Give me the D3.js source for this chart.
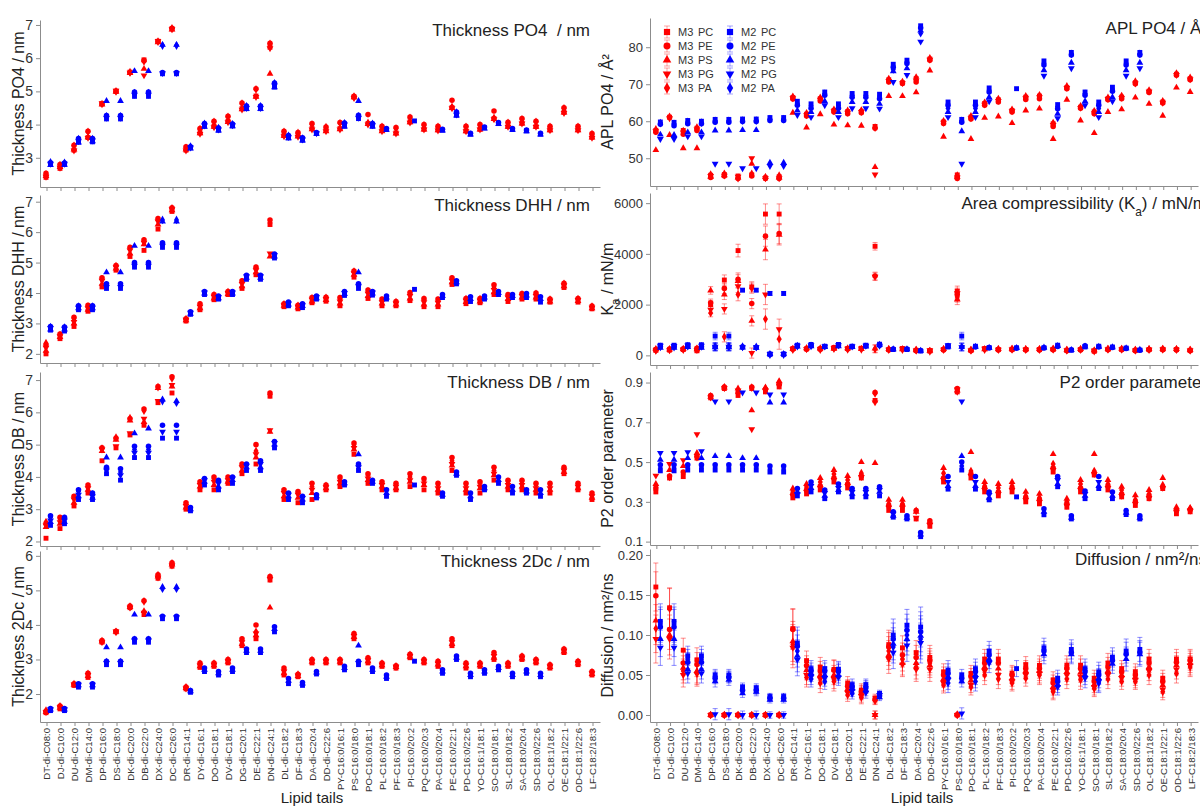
<!DOCTYPE html>
<html>
<head>
<meta charset="utf-8">
<script src="https://cdn.jsdelivr.net/npm/d3@7"></script>
<style>
  body { margin: 0; background: #fff; }
  svg { display: block; font-family: "Liberation Sans", Arial, sans-serif; }
  .axis path, .axis line { stroke: #8c8c8c; }
  .axis text { fill: #333; font-size: 14px; font-family: "Liberation Sans", Arial, sans-serif; }
  .axis.right text { font-size: 13px; }
</style>
</head>
<body>
<svg id="chart" width="1200" height="808"></svg>
<script>
const lipids = ["DT-di-C08:0","DJ-di-C10:0","DU-di-C12:0","DM-di-C14:0","DP-di-C16:0","DS-di-C18:0","DK-di-C20:0","DB-di-C22:0","DX-di-C24:0","DC-di-C26:0",
  "DR-di-C14:1","DY-di-C16:1","DO-di-C18:1","DV-di-C18:1","DG-di-C20:1","DE-di-C22:1","DN-di-C24:1","DL-di-C18:2","DF-di-C18:3","DA-di-C20:4",
  "DD-di-C22:6","PY-C16:0/16:1","PS-C16:0/18:0","PO-C16:0/18:1","PL-C16:0/18:2","PF-C16:0/18:3","PI-C16:0/20:2","PQ-C16:0/20:3","PA-C16:0/20:4","PE-C16:0/22:1",
  "PD-C16:0/22:6","YO-C16:1/18:1","SO-C18:0/18:1","SL-C18:0/18:2","SA-C18:0/20:4","SD-C18:0/22:6","OL-C18:1/18:2","OE-C18:1/22:1","OD-C18:1/22:6","LF-C18:2/18:3"];
const headgroups = ["PC","PE","PS","PG","PA"];
const models = ["M3","M2"];

// values per lipid, in headgroup order PC, PE, PS, PG, PA
const po4M3 = [[2.41,2.53,2.45,2.43,2.5],[2.68,2.8,2.72,2.7,2.78],[3.23,3.38,3.25,3.22,3.36],[3.61,3.8,3.62,3.6,3.78],[4.63,4.62,4.6,4.64,4.62],[5.01,5,4.99,5.02,5],[5.58,5.57,5.55,5.56,5.58],[5.95,5.93,5.68,5.48,5.9],[6.51,6.5,6.48,6.52,6.5],[6.88,6.9,6.86,6.87,6.9],
  [3.23,3.33,3.25,3.22,3.3],[3.75,3.88,3.74,3.72,3.86],[3.95,4.1,3.93,3.92,4.08],[4.1,4.25,4.08,4.07,4.23],[4.48,4.65,4.46,4.45,4.63],[4.86,5.08,4.84,4.83,5.06],[6.33,6.45,5.53,6.3,6.43],[3.67,3.8,3.66,3.65,3.78],[3.67,3.76,3.64,3.63,3.75],[3.88,4.03,3.86,3.85,4],
  [3.82,3.93,3.8,3.8,3.92],[3.88,4.06,3.86,3.85,4.04],[4.83,4.85,4.82,4.8,4.84],[4.03,4.3,4.02,4,4.05],[3.82,3.95,3.8,3.8,3.93],[3.75,3.91,3.73,3.73,3.88],[4.08,4.23,4.07,4.06,4.2],[3.86,4,3.85,3.85,3.98],[3.84,3.95,3.83,3.82,3.93],[4.51,4.73,4.5,4.49,4.53],
  [3.81,3.95,3.8,3.8,3.93],[3.86,4,3.85,3.85,3.98],[4.18,4.41,4.17,4.16,4.2],[3.94,4.07,3.93,3.93,4.05],[4.04,4.18,4.03,4.03,4.16],[3.94,4.1,3.93,3.93,4.08],[3.84,3.95,3.83,3.83,3.93],[4.37,4.51,4.36,4.35,4.49],[3.84,3.95,3.83,3.83,3.93],[3.62,3.73,3.61,3.6,3.71]];
const po4M2 = [[2.8,2.85,2.78,2.82,2.86],[2.8,2.84,2.79,2.82,2.85],[3.47,3.58,3.46,3.5,3.56],[3.48,3.58,3.5,3.52,3.56],[4.17,4.27,4.71,4.2,4.25],[4.17,4.27,4.71,4.2,4.25],[4.85,4.98,5.61,4.9,4.95],[4.85,4.98,5.61,4.9,4.95],[5.53,5.57,6.4,5.55,6.38],[5.53,5.57,6.4,5.55,6.38],
  [3.3,3.33,3.28,3.31,3.34],[3.95,4.03,3.93,3.97,4.02],[3.83,3.9,3.82,3.85,3.89],[3.96,4.02,3.95,3.98,4.01],[4.48,4.56,4.47,4.5,4.55],[4.48,4.56,4.47,4.5,4.55],[5.13,5.25,5.12,5.18,5.24],[3.6,3.67,3.59,3.62,3.66],[3.53,3.6,3.52,3.55,3.58],[3.73,3.76,3.72,3.74],
  [],[3.95,4.05,3.94,4,4.04],[4.18,4.28,4.71,4.2,4.25],[3.95,4.03,3.94,3.98,4.02],[3.85,3.88,3.84],[],[4.11],[],[3.83,3.86,3.82],[4.28,4.38,4.27,4.3,4.36],
  [3.71,3.74,3.7],[3.9,3.93,3.88],[4.03,4.06,4.02],[3.85,3.88,3.84],[3.81,3.84,3.8],[3.71,3.74,3.7],[],[],[],[]];

const dhhM3 = [[2,2.3,2.1,2.2,2.35],[2.5,2.65,2.55,2.58,2.62],[2.9,3.2,3,3.05,3.15],[3.4,3.6,3.45,3.5,3.55],[4.2,4.5,4.3,4.4,4.45],[4.75,4.9,4.8,4.85,4.88],[5.2,5.5,5.3,5.4,5.45],[5.4,5.75,5.6,5.65,5.7],[6.1,6.45,6.25,6.35,6.4],[6.68,6.8,6.72,6.75,6.78],
  [3.08,3.15,3.1,3.12,3.14],[3.45,3.65,3.5,3.55,3.6],[3.78,3.95,3.82,3.88,3.92],[3.95,4.05,3.97,4,4.03],[4.15,4.4,4.22,4.3,4.36],[4.6,4.85,4.68,4.75,4.8],[6.25,6.4,5.2,5.3,6.3],[3.55,3.65,3.58,3.6,3.63],[3.48,3.6,3.52,3.55,3.58],[3.68,3.85,3.72,3.78,3.82],
  [3.73,3.86,3.77,3.8,3.84],[3.58,3.85,3.65,3.72,3.8],[4.52,4.72,4.6,4.65,4.7],[3.82,4.1,3.9,3.98,4.05],[3.58,3.8,3.65,3.7,3.75],[3.58,3.72,3.62,3.66,3.7],[3.75,4.02,3.82,3.9,3.97],[3.55,3.82,3.62,3.7,3.78],[3.55,3.8,3.62,3.68,3.75],[4.28,4.5,4.35,4.4,4.45],
  [3.65,3.82,3.7,3.75,3.8],[3.68,3.82,3.72,3.75,3.8],[3.95,4.27,4.02,4.1,4.2],[3.72,3.95,3.8,3.85,3.9],[3.8,3.98,3.85,3.9,3.95],[3.8,4,3.85,3.9,3.97],[3.7,3.8,3.72,3.75,3.78],[4.18,4.32,4.22,4.25,4.3],[3.7,3.82,3.74,3.77,3.8],[3.48,3.57,3.5,3.52,3.55]];
const dhhM2 = [[2.78,2.9,2.8,2.85,2.88],[2.75,2.88,2.8,2.83,2.86],[3.45,3.58,3.5,3.52,3.55],[3.45,3.58,3.5,3.52,3.55],[4.15,4.3,4.68,4.2,4.25],[4.15,4.3,4.68,4.2,4.25],[4.85,5,5.55,4.9,4.95],[4.85,5,5.55,4.9,4.95],[5.5,5.65,6.35,5.55,6.4],[5.5,5.65,6.35,5.55,6.4],
  [3.3,3.38,3.32,3.35],[3.95,4.05,3.98,4.02],[3.8,3.9,3.83,3.87],[3.95,4.05,3.98,4.02],[4.45,4.58,4.5,4.55],[4.45,4.58,4.5,4.55],[5.15,5.28,5.2,5.25],[3.58,3.7,3.62,3.66],[3.52,3.65,3.57,3.6],[3.8,3.9,3.83,3.87],
  [],[3.92,4.05,3.97,4],[4.15,4.3,4.68,4.22],[3.93,4.05,3.98,4.02],[3.8,3.9,3.85],[],[4.12],[],[3.85,3.95,3.9],[4.3,4.4,4.35],
  [3.72,3.88,3.8],[3.8,3.9,3.85],[3.95,4.05,4],[3.85,3.95,3.9],[3.85,3.98,3.92],[3.7,3.88,3.8],[],[],[],[]];

const dbM3 = [[2.1,2.55,2.45,2.5,2.6],[2.4,2.75,2.55,2.6,2.7],[3.1,3.4,3.2,3.3,3.35],[3.5,3.75,3.6,3.65,3.7],[4.5,4.9,4.8,4.85,4.88],[4.9,5.2,5.15,4.95,5.22],[5.3,5.8,5.75,5.35,5.82],[5.6,6.1,5.7,5.8,6.05],[6.3,6.8,6.75,6.35,6.78],[6.6,7.1,6.8,6.85,7.05],
  [3,3.2,3.05,3.1,3.15],[3.6,3.85,3.7,3.75,3.8],[3.6,4,3.75,3.85,3.95],[3.8,4,3.85,3.9,3.95],[4.1,4.4,4.2,4.3,4.35],[4.4,5,4.6,4.7,4.8],[6.5,6.6,5.4,5.45,6.55],[3.3,3.6,3.4,3.5,3.55],[3.2,3.55,3.35,3.45,3.5],[3.3,3.8,3.5,3.6,3.7],
  [3.6,3.75,3.65,3.68,3.72],[3.7,4,3.8,3.85,3.95],[4.7,5.05,4.85,4.9,5],[3.8,4.1,3.9,3.95,4.05],[3.6,3.85,3.7,3.75,3.8],[3.6,3.8,3.65,3.7,3.75],[3.7,4.1,3.85,3.9,4],[3.6,3.95,3.75,3.8,3.9],[3.5,3.8,3.6,3.65,3.75],[4.2,4.6,4.35,4.4,4.5],
  [3.5,3.8,3.6,3.65,3.75],[3.5,3.85,3.65,3.7,3.8],[3.9,4.3,4.05,4.1,4.2],[3.6,3.9,3.7,3.75,3.85],[3.6,3.9,3.7,3.75,3.85],[3.5,3.8,3.6,3.65,3.75],[3.5,3.8,3.6,3.65,3.75],[4.1,4.3,4.15,4.2,4.25],[3.6,3.8,3.65,3.7,3.75],[3.3,3.5,3.35,3.4,3.45]];
const dbM2 = [[2.5,2.8,2.6,2.65,2.75],[2.55,2.75,2.6,2.65,2.7],[3.3,3.6,3.4,3.45,3.55],[3.3,3.5,3.35,3.4,3.45],[4.1,4.3,4.6,4.2,4.25],[3.9,4.25,4.6,4.05,4.15],[4.6,4.95,5.35,4.75,4.85],[4.6,4.95,5.5,4.75,4.85],[5.2,5.6,6.4,5.4,6.35],[5.2,5.6,6.35,5.4,6.3],
  [2.95,3.05,3],[3.75,3.95,3.85,3.9],[3.6,3.9,3.7,3.8],[3.8,4,3.9,3.95],[4.2,4.4,4.3,4.35],[4.2,4.5,4.3,4.4],[4.9,5.1,5,5.05],[3.3,3.5,3.4,3.45],[3.2,3.4,3.3,3.35],[3.35,3.45,3.4],
  [],[3.75,3.85,3.8],[4.2,4.4,4.7,4.3],[3.8,3.9,3.85],[3.4,3.6,3.5],[],[3.75],[],[3.4,3.5,3.45],[4.05,4.15,4.1],
  [3.3,3.5,3.4],[3.6,3.7,3.65],[3.8,4,3.9],[3.5,3.7,3.6],[3.5,3.6,3.55],[3.4,3.6,3.5],[],[],[],[]];

const dcM3 = [[1.46,1.5,1.48,1.47,1.52],[1.57,1.65,1.6,1.62,1.64],[2.25,2.3,2.27,2.28,2.29],[2.48,2.6,2.52,2.55,2.58],[3.5,3.55,3.52,3.5,3.53],[3.8,3.82,3.8,3.81,3.8],[4.5,4.55,4.52,4.5,4.53],[4.3,4.7,4.4,4.35,4.68],[5.35,5.45,5.4,5.37,5.44],[5.7,5.8,5.75,5.72,5.78],
  [2.15,2.2,2.17,2.16,2.19],[2.77,2.9,2.8,2.83,2.87],[2.8,2.9,2.83,2.85,2.88],[2.9,3,2.93,2.95,2.98],[3.4,3.6,3.45,3.5,3.55],[3.6,4,3.7,3.75,3.8],[5.3,5.4,4.5,5.33,5.38],[2.55,2.75,2.6,2.65,2.7],[2.5,2.57,2.52,2.54,2.56],[2.9,3,2.93,2.95,2.98],
  [2.9,3,2.93,2.95,2.98],[2.9,3,2.93,2.95,2.98],[3.6,3.75,3.65,3.68,3.72],[2.9,3.05,2.95,2.98,3.02],[2.8,2.9,2.83,2.85,2.88],[2.75,2.82,2.78,2.79,2.8],[3.05,3.15,3.08,3.1,3.13],[2.9,3,2.93,2.95,2.98],[2.8,2.95,2.85,2.88,2.92],[3.4,3.6,3.45,3.5,3.55],
  [2.75,2.9,2.8,2.83,2.87],[2.8,2.9,2.83,2.85,2.88],[3,3.2,3.05,3.1,3.15],[2.8,2.9,2.83,2.85,2.88],[3,3.1,3.03,3.05,3.08],[2.9,3,2.93,2.95,2.98],[2.75,2.85,2.78,2.8,2.83],[3.2,3.3,3.23,3.25,3.28],[2.85,2.95,2.88,2.9,2.93],[2.55,2.65,2.58,2.6,2.63]];
const dcM2 = [[1.52,1.58,1.55,1.56],[1.52,1.58,1.55,1.56],[2.2,2.3,2.25,2.27],[2.2,2.3,2.25,2.27],[2.85,2.95,3.35,2.9,2.92],[2.85,2.95,3.35,2.9,2.92],[3.5,3.6,4.3,3.55,3.57],[3.5,3.6,4.3,3.55,3.57],[4.18,4.25,5.1,4.22,5.05],[4.18,4.25,5.1,4.22,5.05],
  [2.05,2.1,2.08],[2.65,2.75,2.7],[2.55,2.65,2.6],[2.65,2.75,2.7],[3.2,3.3,3.25],[3.2,3.3,3.25],[3.8,3.95,3.88],[2.3,2.45,2.38],[2.25,2.33,2.3],[2.58,2.65,2.62],
  [],[2.7,2.8,2.75],[2.85,2.95,3.4,2.9],[2.65,2.75,2.7],[2.45,2.55,2.5],[],[2.95],[],[2.6,2.7,2.65],[3,3.1,3.05],
  [2.5,2.6,2.55],[2.6,2.7,2.65],[2.7,2.8,2.75],[2.5,2.6,2.55],[2.6,2.7,2.65],[2.5,2.6,2.55],[],[],[],[]];

const aplM3 = [[57.5,57,52.2,57.3,57.8],[61.1,61,56.3,60.8,61.2],[57.5,56.5,52.7,57,57.3],[58.1,57.5,52.7,57.8,58.3],[45.4,44.8,45,45.2,45.6],[45.6,45.2,45.4,45.3,45.8],[45.2,44.5,44.8,45,44.6],[45.5,45.2,48.5,50,45.8],[44.7,44.5,44.9,44.6,44.8],[45,44.5,44.8,44.6,45.3],
  [66.4,66,62.3,66.2,66.6],[61.9,61.4,58.3,61.6,62.1],[66.1,65.5,61.9,65.8,66.3],[62.9,62.5,59.1,62.7,63.1],[62.6,62,58.9,62.3,62.8],[62.6,62.3,58.8,62.5,62.9],[58.6,58.1,47.6,45.6,58.3],[71.2,70.6,66.8,70.9,71.4],[70.4,70.2,66.8,70.3,70.6],[71.5,70.6,67.8,71,71.8],
  [76.8,76.5,73.7,76.6,77],[59.8,59.4,55.8,59.6,60],[45.5,44.5,45,44.8,45.3],[61.1,60.6,55.2,60.8,61.3],[64.8,64.3,60.9,64.5,65],[65.8,65.2,61.3,65.5,66],[62.9,62.5,59.5,62.7,63.1],[66.5,65.9,62.9,66.2,66.7],[66.8,66.1,63.4,66.5,67],[59.3,58.6,55.2,59,59.5],
  [69.1,68.8,65.8,69,69.4],[63.8,63.5,60.2,63.6,64],[62.5,62,56.8,62.2,62.7],[66.1,65.8,62.5,66,66.3],[66.5,66.1,63.2,66.3,66.8],[70.4,70.1,66.4,70.2,70.7],[68.1,67.8,64.7,68,68.3],[65.2,64.9,61.5,65,65.4],[72.7,72.4,69.1,72.5,72.9],[71.5,71.2,67.9,71.3,71.7]];
const aplM2 = [[59.8,59.2,56.4,55.2,59.5],[59.7,58.8,56.3,55.2,59.3],[60.2,59.3,57,55.9,59.8],[60,59.3,57,55.9,59.6],[60.5,59.7,57.5,48.5,60.1],[60.5,59.7,57.5,48.5,60.1],[60.6,59.9,57.6,47.3,60.2],[60.6,59.9,57.6,47.3,60.2],[61,60.2,48.8,47.9,60.6],[61,60.2,48.8,47.9,60.6],
  [65.4,64.3,62.9,61.7,64.8],[64.7,63.5,62.5,61.1,64.1],[67.9,67,65.4,64.3,67.4],[64.7,63.5,62.5,61.1,64.1],[67.5,66.5,65.2,63.5,67],[67.5,66.5,65.2,63.5,67],[67.3,66.1,64.7,63.4,66.7],[75.4,74.6,73.5,70.6,74],[76.5,75.6,74.3,72.5,76],[85.8,85.2,84.5,81.5,83.8],
  [],[65.2,64.3,62.5,61.1,63.5],[60.5,59.7,57.3,48.5,60.1],[65.2,64.3,62.5,61.1,63.5],[69,67.9,66.5,65.4,68.4],[],[68.8],[],[76.3,75.2,73.8,72.3,75.7],[64.5,63.4,62,60.8,63.9],
  [78.6,77.9,75.8,74.3,78.2],[67.9,67,65.4,64.3,67.4],[65.2,64.3,62.5,61.1,63.5],[69.2,68.1,66.5,65.4,68.6],[76.3,75.2,73.8,72.3,75.7],[78.6,77.9,75.8,74.3,78.2],[],[],[],[]];

const kaM3 = [[200,230,250,180,210],[210,250,230,200,240],[230,260,250,220,240],[180,280,240,210,260],[2000,2070,2560,1800,1670],[2970,2640,2400,1830,730],[4130,3000,2930,2730,2400],[2700,2040,1360,90,2650],[5570,4700,4170,2400,1430],[5570,4800,4750,1030,640],
  [270,240,260,250,230],[260,240,280,250,270],[260,240,280,250,230],[310,280,260,290,270],[270,250,280,260,240],[280,260,250,270,240],[4300,3130,270,3100,250],[230,210,250,220,240],[270,250,240,260,230],[200,180,220,190,210],
  [170,190,180,200,160],[230,210,250,220,240],[2530,2400,2200,2450,2300],[200,180,220,190,210],[270,250,240,260,230],[230,210,250,220,240],[240,220,260,230,250],[230,210,250,220,240],[230,210,250,220,240],[240,220,260,230,250],
  [200,180,220,190,210],[230,210,250,220,240],[160,180,200,190,170],[240,220,260,230,250],[240,220,260,230,250],[200,180,220,190,210],[230,210,250,220,240],[240,220,260,230,250],[230,210,250,220,240],[200,180,220,190,210]];
const kaM2 = [[400,350,300,380,330],[400,340,300,370,320],[420,350,330,390,360],[420,340,300,380,350],[760,330,320,340,350],[760,330,320,340,350],[2570,330,310,320,340],[2570,310,300,320,330],[2440,40,50,60,30],[2440,40,50,60,30],
  [400,370,350,380,360],[430,380,360,400,370],[360,340,330,350],[430,380,360,400],[360,340,330,350],[400,370,350,380],[440,400,420,380],[230,250,240],[230,250,240],[170,190,180],
  [],[330,380,350,400],[760,330,340,320],[360,330,340],[310,290,300],[],[300,280,290],[],[300,290,310],[400,350,370],
  [200,220,210],[330,380,350],[360,330,340],[330,310,320],[290,270,280],[210,200,220],[],[],[],[]];
const kaErrM3 = [50,50,50,50,150,200,250,200,400,400, 40,40,40,40,40,40,150,40,40,40, 40,40,200,40,40,40,40,40,40,40, 40,40,40,40,40,40,40,40,40,40];
const kaErrM2 = [50,50,50,50,150,150,60,60,80,80, 50,50,50,50,50,50,50,50,50,50, 0,50,150,50,50,0,50,0,50,50, 50,50,50,50,50,50,0,0,0,0];

const p2M3 = [[0.35,0.37,0.39,0.432,0.36],[0.42,0.43,0.46,0.49,0.425],[0.427,0.45,0.48,0.51,0.44],[0.52,0.53,0.546,0.64,0.525],[0.823,0.835,0.828,0.825,0.83],[0.87,0.878,0.875,0.872,0.876],[0.835,0.85,0.87,0.86,0.845],[0.87,0.878,0.76,0.665,0.875],[0.853,0.865,0.875,0.86,0.87],[0.878,0.89,0.907,0.885,0.9],
  [0.32,0.34,0.367,0.33,0.355],[0.34,0.36,0.39,0.35,0.375],[0.36,0.38,0.42,0.37,0.4],[0.4,0.42,0.46,0.41,0.44],[0.37,0.39,0.43,0.38,0.41],[0.42,0.43,0.5,0.425,0.444],[0.81,0.85,0.495,0.8,0.845],[0.257,0.28,0.31,0.27,0.29],[0.257,0.28,0.31,0.27,0.29],[0.214,0.257,0.25,0.22,0.255],
  [0.177,0.205,0.2,0.185,0.19],[0.4,0.42,0.47,0.41,0.444],[0.853,0.87,0.86,0.865,0.855],[0.42,0.44,0.55,0.43,0.455],[0.35,0.37,0.4,0.36,0.38],[0.33,0.35,0.39,0.34,0.37],[0.35,0.37,0.4,0.36,0.38],[0.3,0.32,0.35,0.31,0.33],[0.29,0.31,0.34,0.3,0.32],[0.45,0.47,0.54,0.46,0.49],
  [0.273,0.29,0.316,0.28,0.3],[0.35,0.37,0.41,0.36,0.39],[0.435,0.445,0.54,0.44,0.455],[0.36,0.38,0.41,0.37,0.39],[0.325,0.34,0.376,0.33,0.36],[0.282,0.3,0.333,0.29,0.31],[0.316,0.33,0.36,0.32,0.34],[0.367,0.375,0.42,0.37,0.384],[0.24,0.255,0.273,0.25,0.26],[0.25,0.26,0.27,0.255,0.265]];
const p2M2 = [[0.456,0.486,0.512,0.546,0.47],[0.456,0.486,0.512,0.546,0.47],[0.46,0.486,0.52,0.55,0.475],[0.46,0.486,0.52,0.555,0.475],[0.46,0.486,0.53,0.805,0.475],[0.46,0.486,0.53,0.805,0.475],[0.46,0.486,0.52,0.85,0.475],[0.46,0.486,0.52,0.85,0.475],[0.45,0.48,0.8,0.84,0.465],[0.45,0.48,0.8,0.84,0.465],
  [0.33,0.367,0.35,0.34],[0.35,0.4,0.37,0.38],[0.316,0.36,0.33,0.345],[0.35,0.39,0.36,0.37],[0.325,0.367,0.34,0.35],[0.325,0.367,0.34,0.35],[0.33,0.376,0.35,0.36],[0.223,0.25,0.23,0.24],[0.214,0.23,0.22],[0.125,0.146,0.135],
  [],[0.364,0.427,0.38,0.4],[0.46,0.5,0.53,0.805,0.48],[0.364,0.427,0.38,0.4],[0.31,0.35,0.32,0.335],[],[0.325],[],[0.235,0.265,0.25],[0.376,0.427,0.39,0.41],
  [0.214,0.23,0.22],[0.316,0.354,0.33,0.34],[0.367,0.427,0.38,0.4],[0.316,0.35,0.33],[0.236,0.256,0.245],[0.214,0.23,0.22],[],[],[],[]];

const diffM3 = [[0.16,0.149,0.118,0.095,0.108],[0.134,0.107,0.1,0.095,0.133],[0.081,0.065,0.059,0.05,0.055],[0.069,0.063,0.055,0.051,0.053],[0,0,0,0,0],[0,0,0,0,0],[0,0,0,0,0],[0,0,0,0,0],[0,0,0,0,0],[0,0,0,0,0],
  [0.108,0.107,0.092,0.084,0.088],[0.068,0.062,0.056,0.05,0.047],[0.06,0.055,0.05,0.045,0.04],[0.057,0.056,0.05,0.045,0.042],[0.04,0.036,0.032,0.028,0.025],[0.031,0.029,0.027,0.024,0.022],[0.021,0.019,0,0,0.018],[0.088,0.085,0.075,0.07,0.08],[0.084,0.075,0.065,0.063,0.07],[0.078,0.072,0.065,0.057,0.06],
  [0.072,0.068,0.062,0.057,0.065],[0.054,0.05,0.045,0.04,0.0375],[0,0,0.001,0,0],[0.052,0.048,0.043,0.038,0.035],[0.07,0.065,0.06,0.055,0.05],[0.07,0.065,0.058,0.05,0.045],[0.052,0.05,0.046,0.042,0.04],[0.063,0.058,0.055,0.05,0.046],[0.062,0.058,0.055,0.052,0.05],[0.044,0.04,0.035,0.031,0.029],
  [0.062,0.058,0.054,0.05,0.045],[0.062,0.058,0.053,0.048,0.044],[0.046,0.042,0.038,0.035,0.033],[0.065,0.06,0.055,0.05,0.045],[0.058,0.054,0.05,0.046,0.042],[0.054,0.05,0.047,0.044,0.042],[0.07,0.065,0.06,0.055,0.05],[0.046,0.042,0.037,0.032,0.029],[0.07,0.066,0.062,0.057,0.052],[0.07,0.068,0.065,0.062,0.06]];
const diffM2 = [[0.117,0.11,0.095,0.084,0.113],[0.117,0.11,0.095,0.084,0.113],[0.074,0.066,0.057,0.052,0.07],[0.074,0.066,0.057,0.052,0.07],[0.05,0.046,0.042,0.001,0.048],[0.05,0.047,0.044,0.001,0.048],[0.035,0.031,0.027,0,0.033],[0.034,0.031,0.029,0,0.032],[0.023,0.021,0.019,0,0.022],[0.023,0.021,0.019,0,0.022],
  [0.09,0.086,0.074,0.069,0.08],[0.058,0.055,0.052,0.048,0.045],[0.058,0.055,0.05,0.046,0.042],[0.057,0.055,0.05,0.047,0.053],[0.038,0.035,0.033,0.03,0.027],[0.038,0.034,0.031,0.028,0.036],[0.027,0.024,0.022,0.025],[0.1,0.095,0.089,0.078,0.085],[0.112,0.106,0.095,0.087,0.1],[0.11,0.104,0.099,0.09,0.095],
  [],[0.056,0.052,0.048,0.044,0.04],[0.05,0.046,0.042,0.002],[0.058,0.054,0.05,0.046,0.042],[0.08,0.075,0.07,0.065],[],[0.058],[],[0.084,0.08,0.076],[0.046,0.042,0.038,0.035],
  [0.082,0.078,0.076],[0.058,0.054,0.05,0.046],[0.054,0.05,0.046,0.042,0.04],[0.072,0.068,0.064],[0.08,0.076,0.07],[0.082,0.078,0.076],[],[],[],[]];
const diffErrM3 = [0.03,0.025,0.015,0.015,0.001,0.001,0.001,0.001,0.001,0.001, 0.025,0.012,0.012,0.012,0.008,0.008,0.005,0.018,0.015,0.015, 0.015,0.01,0.001,0.01,0.012,0.012,0.01,0.01,0.012,0.01, 0.012,0.012,0.01,0.012,0.01,0.01,0.012,0.01,0.012,0.012];
const diffErrM2 = [0.022,0.022,0.012,0.012,0.007,0.007,0.005,0.005,0.004,0.004, 0.02,0.01,0.01,0.01,0.007,0.007,0.004,0.02,0.02,0.025, 0,0.012,0.007,0.012,0.012,0,0.01,0,0.012,0.01, 0.012,0.012,0.012,0.012,0.015,0.015,0,0,0,0];

const colors = { M3: "#ff0000", M2: "#0000ff" };
const svg = d3.select("#chart");

// panel layout: column 0 is the thickness stack, column 1 the other properties
const panels = [
  { col: 0, top: 20, bottom: 187, domain: [2.12, 7.15], ticks: [3,4,5,6,7], fmt: d3.format("d"), m3: po4M3, m2: po4M2,
    title: [["Thickness PO4  / nm"]], ylab: [["Thickness PO4 / nm"]] },
  { col: 0, top: 195, bottom: 363, domain: [1.7, 7.22], ticks: [2,3,4,5,6,7], fmt: d3.format("d"), m3: dhhM3, m2: dhhM2,
    title: [["Thickness DHH / nm"]], ylab: [["Thickness DHH / nm"]] },
  { col: 0, top: 372, bottom: 546, domain: [1.86, 7.25], ticks: [2,3,4,5,6,7], fmt: d3.format("d"), m3: dbM3, m2: dbM2,
    title: [["Thickness DB / nm"]], ylab: [["Thickness DB / nm"]] },
  { col: 0, top: 551, bottom: 722, domain: [1.19, 6.14], ticks: [2,3,4,5,6], fmt: d3.format("d"), m3: dcM3, m2: dcM2,
    title: [["Thickness 2Dc / nm"]], ylab: [["Thickness 2Dc / nm"]], labels: true },
  { col: 1, top: 18, bottom: 186, domain: [42.5, 87.9], ticks: [50,60,70,80], fmt: d3.format("d"), m3: aplM3, m2: aplM2,
    title: [["APL PO4 / Å²"]], ylab: [["APL PO4 / Å²"]], legend: true },
  { col: 1, top: 193, bottom: 365, domain: [-380, 6400], ticks: [0,2000,4000,6000], fmt: d3.format("d"), m3: kaM3, m2: kaM2,
    e3: kaErrM3, e2: kaErrM2,
    title: [["Area compressibility (K"], ["a", true], [") / mN/m"]], ylab: [["K"], ["a", true], [" / mN/m"]] },
  { col: 1, top: 372, bottom: 545, domain: [0.083, 0.953], ticks: [0.1,0.3,0.5,0.7,0.9], fmt: d3.format(".1f"), m3: p2M3, m2: p2M2,
    title: [["P2 order parameter"]], ylab: [["P2 order parameter"]] },
  { col: 1, top: 549, bottom: 722, domain: [-0.00875, 0.2075], ticks: [0,0.05,0.1,0.15,0.2], fmt: d3.format(".2f"), m3: diffM3, m2: diffM2,
    e3: diffErrM3, e2: diffErrM2,
    title: [["Diffusion / nm²/ns"]], ylab: [["Diffusion / nm²/ns"]], labels: true }
];

const columns = [
  { range: [40, 600], titleX: 590, ylabX: 18, xlabX: 312, cls: "axis" },
  { range: [650, 1198], titleX: 1207, ylabX: 607, xlabX: 922, cls: "axis right" }
];

// marker per headgroup: square, circle, triangle up, triangle down, diamond
const shapes = [
  { type: d3.symbolSquare, size: 24, rot: 0 },
  { type: d3.symbolCircle, size: 24, rot: 0 },
  { type: d3.symbolTriangle, size: 20, rot: 0 },
  { type: d3.symbolTriangle, size: 20, rot: 180 },
  { type: d3.symbolDiamond, size: 22, rot: 0 }
];

function richText(sel, parts) {
  parts.forEach(([t, sub]) => {
    const ts = sel.append("tspan").text(t);
    if (sub) ts.attr("baseline-shift", "sub").attr("font-size", "0.7em");
  });
}

function drawPanel(p) {
  const c = columns[p.col];
  const x = d3.scaleBand().domain(lipids).range(c.range);
  const y = d3.scaleLinear().domain(p.domain).range([p.bottom, p.top]);
  const g = svg.append("g");

  g.append("g").attr("class", c.cls)
    .attr("transform", `translate(${c.range[0]},0)`)
    .call(d3.axisLeft(y).tickValues(p.ticks).tickFormat(p.fmt).tickSize(4).tickSizeOuter(0).tickPadding(3));

  const xa = g.append("g").attr("class", "axis")
    .attr("transform", `translate(0,${p.bottom})`)
    .call(d3.axisBottom(x).tickSize(4).tickSizeOuter(0).tickFormat(p.labels ? d => d : ""));
  if (p.labels) {
    xa.selectAll(".tick text")
      .attr("transform", "rotate(-90)")
      .attr("x", -6).attr("y", 0).attr("dy", "0.35em")
      .attr("text-anchor", "end")
      .style("font-size", "9.6px");
    svg.append("text")
      .attr("x", c.xlabX).attr("y", 803)
      .attr("text-anchor", "middle")
      .attr("font-size", 15).attr("fill", "#222")
      .text("Lipid tails");
  }

  // panel title in the upper right corner
  richText(g.append("text")
    .attr("x", c.titleX).attr("y", p.top + 16)
    .attr("text-anchor", "end").attr("font-size", 17).attr("fill", "#222")
    .style("white-space", "pre"), p.title);

  // y axis title
  richText(g.append("text")
    .attr("transform", `translate(${c.ylabX},${(p.top + p.bottom) / 2}) rotate(-90)`)
    .attr("text-anchor", "middle").attr("dy", "0.35em")
    .attr("font-size", 16).attr("fill", "#222"), p.ylab);

  const series = [
    { vals: p.m3, errs: p.e3, color: colors.M3, off: -1 },
    { vals: p.m2, errs: p.e2, color: colors.M2, off: 3.5 }
  ];
  const cx = i => x(lipids[i]) + x.bandwidth() / 2;

  // error bars under the markers
  series.forEach(s => {
    if (!s.errs) return;
    s.vals.forEach((arr, i) => {
      const e = s.errs[i];
      if (!e) return;
      const xc = cx(i) + s.off;
      arr.forEach(v => {
        const y0 = y(v - e), y1 = y(v + e);
        g.append("path")
          .attr("d", `M${xc},${y0}V${y1}M${xc - 2.5},${y0}H${xc + 2.5}M${xc - 2.5},${y1}H${xc + 2.5}`)
          .attr("stroke", s.color).attr("stroke-opacity", 0.45).attr("stroke-width", 1).attr("fill", "none");
      });
    });
  });

  series.forEach(s => {
    s.vals.forEach((arr, i) => {
      const xc = cx(i) + s.off;
      arr.forEach((v, j) => {
        const sh = shapes[j];
        g.append("path")
          .attr("d", d3.symbol(sh.type, sh.size)())
          .attr("transform", `translate(${xc},${y(v)})` + (sh.rot ? ` rotate(${sh.rot})` : ""))
          .attr("fill", s.color);
      });
    });
  });

  if (p.legend) drawLegend(g, p.top);
}

function drawLegend(g, top) {
  const lg = g.append("g").attr("font-size", 11).attr("fill", "#333");
  models.forEach((m, mi) => {
    const x0 = 667 + mi * 63;
    headgroups.forEach((h, j) => {
      const yy = top + 14 + j * 14;
      lg.append("path")
        .attr("d", `M${x0},${yy - 6}V${yy + 6}M${x0 - 3},${yy - 6}H${x0 + 3}M${x0 - 3},${yy + 6}H${x0 + 3}`)
        .attr("stroke", colors[m]).attr("stroke-opacity", 0.35).attr("fill", "none");
      const sh = shapes[j];
      lg.append("path")
        .attr("d", d3.symbol(sh.type, sh.size * 1.6)())
        .attr("transform", `translate(${x0},${yy})` + (sh.rot ? ` rotate(${sh.rot})` : ""))
        .attr("fill", colors[m]);
      lg.append("text").attr("x", x0 + 11).attr("y", yy).attr("dy", "0.35em").text(m);
      lg.append("text").attr("x", x0 + 31).attr("y", yy).attr("dy", "0.35em").text(h);
    });
  });
}

panels.forEach(drawPanel);
</script>
</body>
</html>
